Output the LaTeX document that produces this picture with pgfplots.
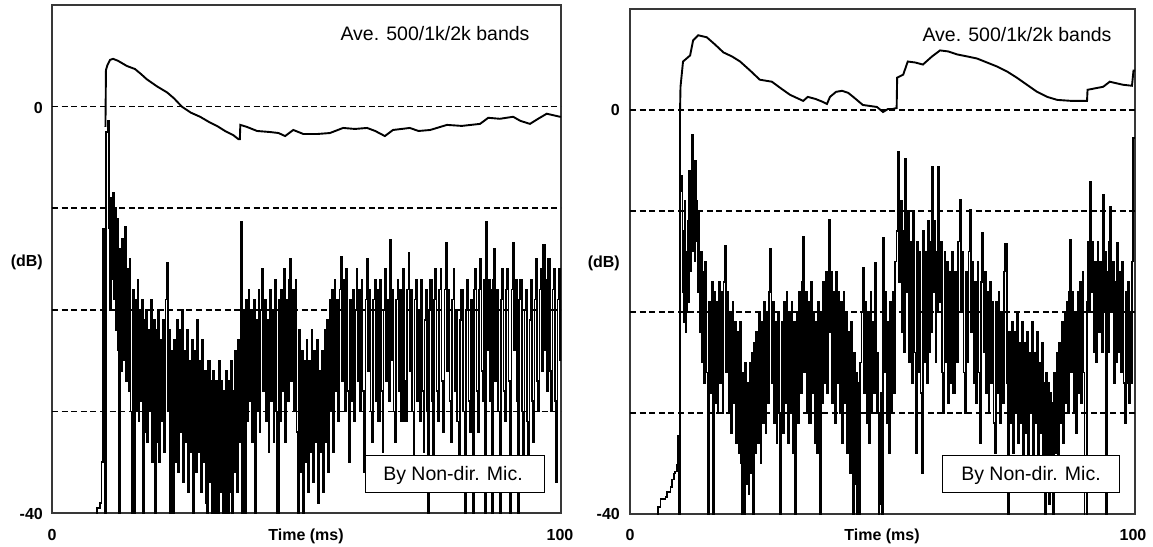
\documentclass[border=0pt]{standalone}
\usepackage{pgfplots}
\pgfplotsset{compat=1.18}
\usepackage{fontspec}
\setmainfont{Liberation Sans}
\newcommand\tl{\fontsize{16}{18}\selectfont\bfseries}
\newcommand\tx{\fontsize{19.5}{22}\selectfont}
\pgfplotsset{
  echo/.style={scale only axis, anchor=south west, xmin=0, xmax=100, ymin=-40, ymax=10,
    xtick=\empty, ytick=\empty, clip mode=individual,
    axis line style={line width=1.5pt, black!78}},
  grid dash/.style={black, line width=1.5pt, dash pattern=on 6pt off 3.6pt, forget plot},
  noise/.style={black, line width=1.6pt, const plot, mark=none},
  env/.style={black, line width=1.9pt, sharp plot, mark=none}
}
\begin{document}
\begin{tikzpicture}[x=1pt,y=1pt]
\path[use as bounding box] (0,0) rectangle (1153,-546);
% ---------------- left panel ----------------
\begin{axis}[echo, at={(52pt,-513pt)}, width=509pt, height=508pt]
\addplot[grid dash] coordinates {(0,0) (100,0)};
\addplot[grid dash] coordinates {(0,-10) (100,-10)};
\addplot[grid dash] coordinates {(0,-20) (100,-20)};
\addplot[grid dash] coordinates {(0,-30) (100,-30)};
\addplot[noise] coordinates {
(0,-41) (8.6,-41) (8.8,-39.5) (9.4,-39) (9.7,-35)
(10.0,-12) (10.2,-20) (10.4,-41) (10.6,-2.5) (11.0,-1.4) (11.2,-12) (11.4,-20) (11.6,-9) (11.8,-17) (12.0,-8.5) (12.2,-19) (12.4,-10) (12.6,-22) (12.8,-11) (13.0,-24) (13.2,-41) (13.4,-14) (13.6,-26) (13.8,-13) (14.0,-25) (14.3,-11.8) (14.5,-27) (14.7,-16) (15.0,-28) (15.2,-15) (15.4,-30) (15.7,-41) (15.9,-18) (16.1,-41) (16.3,-19) (16.5,-30) (16.8,-17) (17.0,-31) (17.2,-20) (17.5,-29) (17.7,-19) (17.9,-41) (18.1,-21) (18.3,-32) (18.5,-20) (18.7,-33) (18.9,-22) (19.2,-30) (19.4,-19) (19.6,-35) (19.9,-21)
(20.2,-41) (20.4,-22) (20.6,-33) (20.8,-20) (21.0,-35) (21.3,-23) (21.5,-31) (21.8,-21) (22.0,-34) (22.3,-19) (22.6,-15.4) (22.8,-30) (23.0,-22) (23.2,-41) (23.5,-24) (23.8,-41) (24.0,-23) (24.2,-35) (24.5,-21) (24.7,-36) (25.0,-22) (25.2,-32) (25.5,-20) (25.7,-37) (26.0,-24) (26.2,-33) (26.5,-22) (26.7,-38) (27.0,-25) (27.2,-34) (27.5,-23) (27.7,-41) (28.0,-24) (28.2,-36) (28.5,-21) (28.7,-34) (29.0,-25) (29.2,-38) (29.5,-23) (29.7,-35)
(30.0,-26) (30.2,-39) (30.5,-41) (30.7,-25) (31.0,-37) (31.2,-27) (31.4,-41) (31.6,-26) (31.8,-38) (32.0,-41) (32.2,-27) (32.4,-36) (32.6,-41) (32.8,-25) (33.0,-38) (33.2,-27) (33.5,-40) (33.7,-28) (34.0,-41) (34.2,-26) (34.4,-39) (34.6,-41) (34.8,-27) (35.0,-38) (35.2,-25) (35.4,-40) (35.6,-28) (35.8,-36) (36.0,-24) (36.3,-38) (36.6,-23) (36.8,-33) (37.0,-11.3) (37.3,-41) (37.5,-20) (37.7,-30) (37.9,-41) (38.1,-19) (38.3,-31) (38.6,-18) (38.8,-29) (39.1,-20) (39.3,-33) (39.6,-19) (39.9,-41)
(40.1,-21) (40.3,-30) (40.6,-18) (40.8,-32) (41.0,-20) (41.2,-16) (41.5,-28) (41.7,-19) (42.0,-31) (42.2,-21) (42.5,-34) (42.7,-18) (43.0,-29) (43.2,-20) (43.5,-33) (43.7,-17) (44.0,-30) (44.2,-41) (44.4,-41) (44.6,-19) (44.8,-31) (45.0,-18) (45.3,-28) (45.5,-16) (45.8,-33) (46.0,-19) (46.3,-29) (46.6,-17) (46.8,-15) (47.0,-27) (47.3,-18) (47.5,-30) (47.8,-17) (48.0,-32) (48.3,-41) (48.5,-22) (48.8,-36) (49.0,-24) (49.3,-41) (49.5,-25) (49.7,-35)
(50.0,-23) (50.2,-38) (50.5,-25) (50.7,-34) (51.0,-22) (51.2,-37) (51.5,-24) (51.7,-33) (52.0,-23) (52.2,-39) (52.5,-26) (52.7,-34) (53.0,-24) (53.2,-38) (53.5,-22) (53.7,-33) (54.0,-21) (54.2,-36) (54.5,-19) (54.7,-30) (55.0,-18) (55.2,-34) (55.5,-17) (55.7,-28) (56.0,-19) (56.2,-31) (56.5,-18) (56.8,-14.8) (57.0,-27) (57.3,-17) (57.5,-30) (57.8,-16) (58.0,-28) (58.3,-35) (58.5,-19) (58.8,-29) (59.0,-18) (59.3,-31) (59.5,-20) (59.8,-16)
(60.0,-27) (60.3,-18) (60.5,-30) (60.8,-17) (61.0,-28) (61.3,-36) (61.6,-19) (61.9,-15) (62.1,-26) (62.4,-18) (62.6,-30) (62.9,-33) (63.1,-19) (63.4,-17) (63.6,-29) (63.9,-18) (64.1,-31) (64.4,-17) (64.6,-28) (64.9,-34) (65.1,-20) (65.4,-16) (65.6,-27) (65.9,-19) (66.1,-29) (66.4,-13.1) (66.6,-25) (66.9,-18) (67.1,-30) (67.4,-33) (67.6,-19) (67.9,-17) (68.1,-28) (68.4,-18) (68.6,-31) (68.9,-16) (69.1,-27) (69.4,-31) (69.7,-18)
(70.0,-14.4) (70.2,-26) (70.5,-18) (70.7,-30) (71.0,-36) (71.2,-19) (71.5,-17) (71.7,-29) (72.0,-20) (72.2,-31) (72.5,-17) (72.7,-28) (73.0,-34) (73.2,-21) (73.5,-18) (73.7,-30) (73.9,-41) (74.1,-20) (74.3,-17) (74.6,-29) (74.8,-35) (75.0,-19) (75.3,-16) (75.5,-28) (75.8,-31) (76.0,-18) (76.3,-16) (76.5,-27) (76.8,-32) (77.1,-18) (77.4,-13.4) (77.6,-26) (77.9,-18) (78.1,-29) (78.4,-33) (78.6,-19) (78.9,-16) (79.1,-28) (79.4,-20) (79.6,-31) (79.9,-37)
(80.1,-21) (80.4,-18) (80.7,-30) (81.1,-41) (81.3,-20) (81.5,-17) (81.8,-29) (82.0,-32) (82.3,-19) (82.7,-41) (82.9,-18) (83.1,-16) (83.4,-28) (83.6,-32) (83.9,-18) (84.1,-15) (84.4,-26) (84.6,-29) (84.9,-17) (85.1,-41) (85.3,-11.3) (85.5,-24) (85.7,-17) (86.0,-29) (86.2,-18) (86.4,-41) (86.6,-17) (86.8,-14) (87.0,-27) (87.3,-18) (87.6,-30) (88.0,-41) (88.2,-19) (88.4,-16) (88.7,-28) (88.9,-31) (89.2,-18) (89.4,-16) (89.7,-27)
(90.0,-41) (90.3,-18) (90.6,-13.4) (90.8,-24) (91.0,-17) (91.3,-29) (91.6,-41) (91.8,-19) (92.0,-17) (92.3,-30) (92.5,-36) (92.8,-20) (93.0,-18) (93.3,-31) (93.5,-38) (93.8,-21) (94.0,-17) (94.3,-29) (94.5,-33) (94.8,-19) (95.0,-15) (95.3,-27) (95.5,-30) (95.8,-18) (96.0,-16) (96.3,-26) (96.5,-13.6) (96.8,-24) (97.0,-17) (97.2,-28) (97.5,-15) (97.8,-26) (98.0,-30) (98.3,-18) (98.5,-16) (98.8,-29) (99.0,-37) (99.3,-19) (99.5,-16) (99.8,-25) (100,-19)
};
\addplot[env] coordinates {
(10.5,-2) (10.6,3.6) (10.9,4.1) (11.4,4.6) (12.0,4.7) (13.0,4.5) (14.7,4.0) (16.3,3.7) (17.5,3.2) (18.6,2.7) (20.6,2.0) (22.6,1.4) (24.0,0.8) (25.5,0.0) (27.3,-0.6) (29.1,-1.0) (30.8,-1.5) (32.4,-1.9) (34.0,-2.4) (35.6,-2.8) (36.6,-3.2) (36.9,-3.2) (37.0,-1.8) (38.3,-2.0) (40.3,-2.4) (42.8,-2.5) (44.5,-2.6) (45.8,-2.9) (47.4,-2.3) (49.4,-2.7) (52.0,-2.7) (54.6,-2.6) (57.2,-2.1) (59.5,-2.2) (61.9,-2.1) (63.5,-2.4) (65.4,-2.9) (67.0,-2.3) (70.3,-2.1) (72.0,-2.4) (74.3,-2.3) (77.6,-1.8) (80.5,-1.9) (84.1,-1.7) (85.7,-1.1) (88.0,-1.2) (90.6,-1.0) (92.0,-1.4) (93.9,-1.7) (95.5,-1.2) (97.2,-0.7) (99.8,-1.0) (100,-1.0)
};
\end{axis}
% ---------------- right panel ----------------
\begin{axis}[echo, at={(630pt,-514pt)}, width=505pt, height=505pt]
\addplot[grid dash] coordinates {(0,0) (100,0)};
\addplot[grid dash] coordinates {(0,-10) (100,-10)};
\addplot[grid dash] coordinates {(0,-20) (100,-20)};
\addplot[grid dash] coordinates {(0,-30) (100,-30)};
\addplot[noise] coordinates {
(0,-41) (5.4,-41) (5.6,-39.3) (6.0,-38.5) (7.0,-38.3) (7.3,-37.8) (8.0,-37.3) (8.3,-36.6) (8.7,-36) (8.9,-35.8) (9.3,-35.1) (9.4,-32.3) (9.6,-41)
(9.9,-0.3) (10.0,-8) (10.2,-6.5) (10.4,-18) (10.5,-12) (10.7,-21) (10.8,-9) (11.0,-22) (11.1,-14) (11.3,-20) (11.4,-11) (11.6,-19) (11.7,-6) (11.9,-16) (12.1,-6) (12.3,-2.5) (12.5,-14) (12.6,-8) (12.8,-15) (12.9,-5) (13.1,-13) (13.2,-9) (13.4,-18) (13.6,-10) (13.8,-22) (14.0,-14) (14.2,-25) (14.4,-16) (14.6,-27) (14.8,-15) (15.1,-26) (15.4,-41) (15.6,-19) (15.8,-28) (16.1,-17) (16.4,-41) (16.6,-18) (16.8,-29) (17.0,-19) (17.3,-30) (17.5,-17) (17.8,-27) (18.0,-18) (18.3,-30) (18.5,-17) (18.8,-13.4) (19.0,-26) (19.3,-18) (19.5,-30) (19.8,-20)
(20.0,-32) (20.3,-19) (20.5,-29) (20.8,-21) (21.0,-33) (21.3,-22) (21.5,-34) (21.8,-21) (22.0,-35) (22.2,-41) (22.4,-26) (22.6,-41) (22.8,-25) (23.0,-37) (23.2,-27) (23.5,-38) (23.7,-25) (24.0,-36) (24.2,-24) (24.4,-41) (24.6,-23) (24.8,-34) (25.0,-22) (25.3,-33) (25.5,-20) (25.8,-35) (26.0,-21) (26.3,-31) (26.5,-19) (26.8,-32) (27.0,-20) (27.2,-29) (27.5,-18) (27.7,-13.7) (28.0,-27) (28.2,-19) (28.5,-31) (28.7,-21) (29.0,-33) (29.2,-20) (29.5,-30) (29.7,-41)
(30.0,-21) (30.2,-32) (30.5,-19) (30.7,-29) (31.0,-18) (31.2,-33) (31.5,-20) (31.7,-30) (32.0,-19) (32.2,-34) (32.5,-21) (32.7,-41) (33.0,-20) (33.2,-31) (33.5,-18) (33.7,-28) (34.0,-17) (34.3,-12.6) (34.5,-26) (34.8,-18) (35.0,-30) (35.3,-19) (35.5,-31) (35.8,-17) (36.0,-28) (36.3,-20) (36.5,-33) (36.8,-21) (37.0,-34) (37.2,-19) (37.4,-31) (37.6,-41) (37.8,-20) (38.0,-29) (38.2,-17) (38.5,-27) (38.7,-16) (39.0,-28) (39.2,-17) (39.4,-10.9) (39.6,-22) (39.8,-16)
(40.0,-29) (40.3,-18) (40.5,-31) (40.8,-16) (41.0,-27) (41.3,-18) (41.5,-30) (41.8,-19) (42.0,-33) (42.3,-18) (42.5,-29) (42.8,-20) (43.0,-34) (43.3,-22) (43.5,-36) (43.8,-21) (44.0,-35) (44.2,-41) (44.4,-24) (44.6,-37) (44.8,-26) (45.0,-41) (45.2,-27) (45.5,-41) (45.6,-25) (45.8,-20) (46.1,-15.6) (46.3,-28) (46.6,-19) (46.8,-31) (47.1,-20) (47.3,-33) (47.6,-18) (47.8,-30) (48.0,-21) (48.3,-28) (48.5,-15.1) (48.8,-30) (49.0,-24) (49.2,-41) (49.4,-30) (49.5,-39) (49.7,-28) (49.8,-41)
(50.1,-12.7) (50.3,-26) (50.5,-18) (50.8,-31) (51.0,-21) (51.2,-34) (51.5,-19) (51.8,-30) (52.0,-18) (52.2,-28) (52.5,-15) (52.8,-12) (53.1,-4.1) (53.3,-17) (53.5,-9) (53.8,-22) (54.0,-12) (54.2,-24) (54.5,-4.8) (54.7,-18) (55.0,-10) (55.2,-25) (55.5,-13) (55.8,-27) (56.0,-10) (56.3,-24) (56.5,-34) (56.8,-13) (57.0,-26) (57.3,-14) (57.5,-28) (57.8,-36) (58.0,-12) (58.3,-25) (58.5,-14) (58.8,-27) (59.0,-11) (59.2,-24) (59.4,-13) (59.6,-22) (59.8,-5.6)
(60.0,-18) (60.3,-11) (60.5,-25) (60.6,-14) (60.8,-20) (61.0,-5.6) (61.2,-19) (61.5,-13) (61.8,-26) (62.0,-30) (62.3,-14) (62.5,-25) (62.8,-15) (63.0,-29) (63.3,-16) (63.5,-27) (63.8,-14) (64.0,-28) (64.3,-16) (64.5,-25) (64.9,-13) (65.3,-8.9) (65.5,-20) (65.8,-14) (66.0,-26) (66.3,-30) (66.5,-16) (66.8,-25) (67.0,-14) (67.3,-9.9) (67.5,-22) (67.8,-15) (68.0,-27) (68.3,-17) (68.5,-29) (68.8,-15) (69.0,-26) (69.3,-33) (69.5,-17) (69.7,-12.2)
(70.0,-24) (70.2,-16) (70.5,-28) (70.7,-18) (71.0,-30) (71.2,-17) (71.5,-27) (71.7,-19) (72.0,-31) (72.2,-34) (72.5,-19) (72.7,-28) (73.0,-18) (73.2,-31) (73.5,-20) (73.7,-29) (74.0,-16) (74.3,-13.2) (74.6,-27) (74.9,-41) (75.1,-22) (75.3,-31) (75.6,-21) (75.8,-34) (76.1,-22) (76.3,-30) (76.6,-20) (76.8,-33) (77.1,-23) (77.3,-31) (77.6,-21) (77.8,-36) (78.1,-23) (78.3,-32) (78.6,-22) (78.8,-35) (79.1,-24) (79.3,-30) (79.6,-21) (79.8,-35)
(80.1,-24) (80.3,-31) (80.6,-22) (80.8,-37) (81.1,-25) (81.3,-32) (81.6,-23) (81.8,-36) (82.0,-27) (82.2,-41) (82.4,-26) (82.6,-35) (82.8,-27) (83.0,-39) (83.2,-28) (83.4,-36) (83.6,-29) (83.8,-41) (84.0,-26) (84.2,-34) (84.5,-24) (84.7,-36) (85.0,-23) (85.2,-31) (85.5,-21) (85.7,-33) (86.0,-20) (86.2,-29) (86.5,-19) (86.7,-30) (86.9,-18) (87.1,-12.9) (87.3,-26) (87.6,-18) (87.8,-30) (88.1,-20) (88.3,-32) (88.6,-18) (88.8,-28) (89.1,-17) (89.3,-29) (89.6,-16) (89.8,-26)
(90.0,-41) (90.3,-41) (90.5,-19) (90.7,-13) (90.9,-20) (91.1,-7.1) (91.3,-18) (91.6,-13) (91.8,-24) (92.1,-15) (92.3,-25) (92.6,-13) (92.8,-22) (93.1,-15) (93.4,-24) (93.7,-8.4) (93.9,-20) (94.0,-14) (94.3,-41) (94.5,-16) (94.6,-24) (94.8,-13) (95.0,-9.6) (95.2,-20) (95.5,-15) (95.8,-27) (96.0,-17) (96.2,-25) (96.4,-13.1) (96.7,-24) (96.9,-16) (97.2,-26) (97.4,-15) (97.7,-27) (97.9,-31) (98.2,-18) (98.4,-27) (98.6,-17) (98.8,-29) (99.0,-20) (99.2,-27) (99.4,-15) (99.6,-2.8) (100,-2.8)
};
\addplot[env] coordinates {
(9.9,-0.3) (10.0,2.3) (10.5,4.8) (11.9,5.4) (12.5,6.9) (13.5,7.4) (15.2,7.2) (16.8,6.5) (18.5,5.7) (20.2,5.3) (21.8,4.8) (23.8,3.9) (25.7,3.0) (28.1,2.8) (30.0,2.1) (31.7,1.5) (34.3,0.9) (35.2,1.3) (36.7,1.1) (38.2,0.8) (39.0,0.6) (39.6,1.3) (40.8,1.8) (42.0,1.9) (43.2,1.7) (44.2,1.3) (46.1,0.5) (48.9,0.3) (50.1,-0.2) (51.1,0.1) (52.0,0.1) (52.8,0.2) (52.9,3.2) (54.1,3.5) (55.0,4.8) (56.5,4.7) (58.0,4.5) (59.8,5.3) (61.4,5.9) (63.0,5.8) (64.8,5.5) (66.8,5.3) (68.7,5.1) (70.7,4.7) (72.7,4.3) (74.7,3.8) (76.6,3.2) (78.6,2.5) (80.6,1.8) (82.6,1.3) (84.6,1.0) (87.5,0.9) (90.5,0.9) (90.6,2.0) (93.7,2.3) (95.0,2.8) (97.6,2.5) (99.4,2.4) (99.7,3.9) (100,3.9)
};
\end{axis}
% ---------------- labels ----------------
\node[anchor=east, inner sep=0] at (43,-107.5) {\tl 0};
\node[anchor=east, inner sep=0] at (43,-513.5) {\tl -40};
\node[anchor=east, inner sep=0] at (43,-262) {\tl (dB)};
\node[anchor=base, inner sep=0] at (52,-540) {\tl 0};
\node[anchor=base, inner sep=0] at (306,-540) {\tl Time (ms)};
\node[anchor=base, inner sep=0] at (560,-540) {\tl 100};
\node[anchor=base, inner sep=0] at (435,-40) {\tx Ave. 500/1k/2k bands};
\node[draw=black, fill=white, line width=0.9pt, minimum width=179pt, minimum height=37pt, inner sep=0] at (454.5,-473.5) {};
\node[anchor=base, inner sep=0] at (453,-480) {\tx By Non-dir. Mic.};
\node[anchor=east, inner sep=0] at (620,-110) {\tl 0};
\node[anchor=east, inner sep=0] at (620,-514) {\tl -40};
\node[anchor=east, inner sep=0] at (620,-263) {\tl (dB)};
\node[anchor=base, inner sep=0] at (630,-540) {\tl 0};
\node[anchor=base, inner sep=0] at (882,-540) {\tl Time (ms)};
\node[anchor=base, inner sep=0] at (1133,-540) {\tl 100};
\node[anchor=base, inner sep=0] at (1017,-41) {\tx Ave. 500/1k/2k bands};
\node[draw=black, fill=white, line width=0.9pt, minimum width=177pt, minimum height=37pt, inner sep=0] at (1030.5,-473.5) {};
\node[anchor=base, inner sep=0] at (1031,-480.5) {\tx By Non-dir. Mic.};
\end{tikzpicture}
\end{document}
